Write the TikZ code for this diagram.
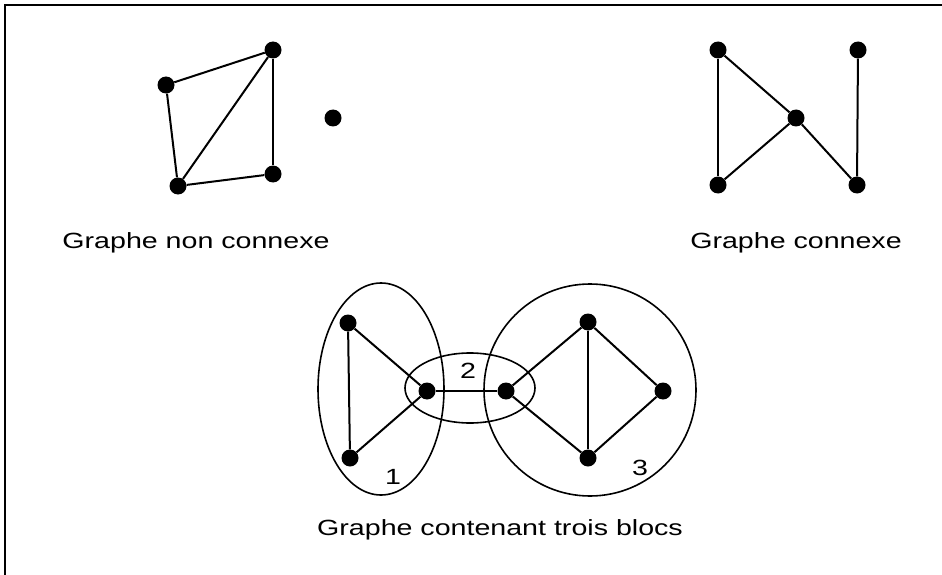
\documentclass[tikz,border=0pt]{standalone}
\usepackage{fontspec}
\setmainfont{Liberation Sans}[FakeStretch=1.3]
\begin{document}
\begin{tikzpicture}[x=1pt, y=-1pt,
    every node/.style={font=\fontsize{22}{26}\selectfont},
    vertex/.style={circle, fill, inner sep=0pt, minimum size=17pt},
    edge/.style={line width=2pt},
    bloc/.style={line width=1.6pt}]
  \useasboundingbox (0,0) rectangle (942,575);
  \draw[line width=2.6pt] (5,575) -- (5,5) -- (942,5);
  % graphe non connexe
  \node[vertex] (a1) at (273,50) {};
  \node[vertex] (a2) at (166,85) {};
  \node[vertex] (a3) at (178,186) {};
  \node[vertex] (a4) at (273,174) {};
  \node[vertex] (a5) at (333,118) {};
  \draw[edge] (a2)--(a1);
  \draw[edge] (a2)--(a3);
  \draw[edge] (a3)--(a1);
  \draw[edge] (a3)--(a4);
  \draw[edge] (a1)--(a4);
  \node[anchor=base] (t1) at (196,248) {Graphe non connexe};
  % graphe connexe
  \node[vertex] (c1) at (718,50) {};
  \node[vertex] (c2) at (858,50) {};
  \node[vertex] (c3) at (796,118) {};
  \node[vertex] (c4) at (718,185) {};
  \node[vertex] (c5) at (857,185) {};
  \draw[edge] (c1)--(c4);
  \draw[edge] (c1)--(c3);
  \draw[edge] (c4)--(c3);
  \draw[edge] (c3)--(c5);
  \draw[edge] (c2)--(c5);
  \node[anchor=base] (t2) at (796,248) {Graphe connexe};
  % graphe contenant trois blocs
  \node[vertex] (b1) at (348,323) {};
  \node[vertex] (b2) at (350,458) {};
  \node[vertex] (b3) at (427,391) {};
  \node[vertex] (b4) at (506,391) {};
  \node[vertex] (b5) at (588,322) {};
  \node[vertex] (b6) at (663,391) {};
  \node[vertex] (b7) at (588,458) {};
  \draw[edge] (b1)--(b2);
  \draw[edge] (b1)--(b3);
  \draw[edge] (b2)--(b3);
  \draw[edge] (b3)--(b4);
  \draw[edge] (b4)--(b5);
  \draw[edge] (b4)--(b7);
  \draw[edge] (b5)--(b7);
  \draw[edge] (b5)--(b6);
  \draw[edge] (b6)--(b7);
  \draw[bloc] (381,389) ellipse [x radius=63pt, y radius=106pt];
  \draw[bloc] (470,388) ellipse [x radius=65pt, y radius=35pt];
  \draw[bloc] (590,390) circle [radius=106pt];
  \node (n1) at (393,477) {1};
  \node (n2) at (468,371) {2};
  \node (n3) at (640,468) {3};
  \node[anchor=base] (t3) at (500,535) {Graphe contenant trois blocs};
\end{tikzpicture}
\end{document}
